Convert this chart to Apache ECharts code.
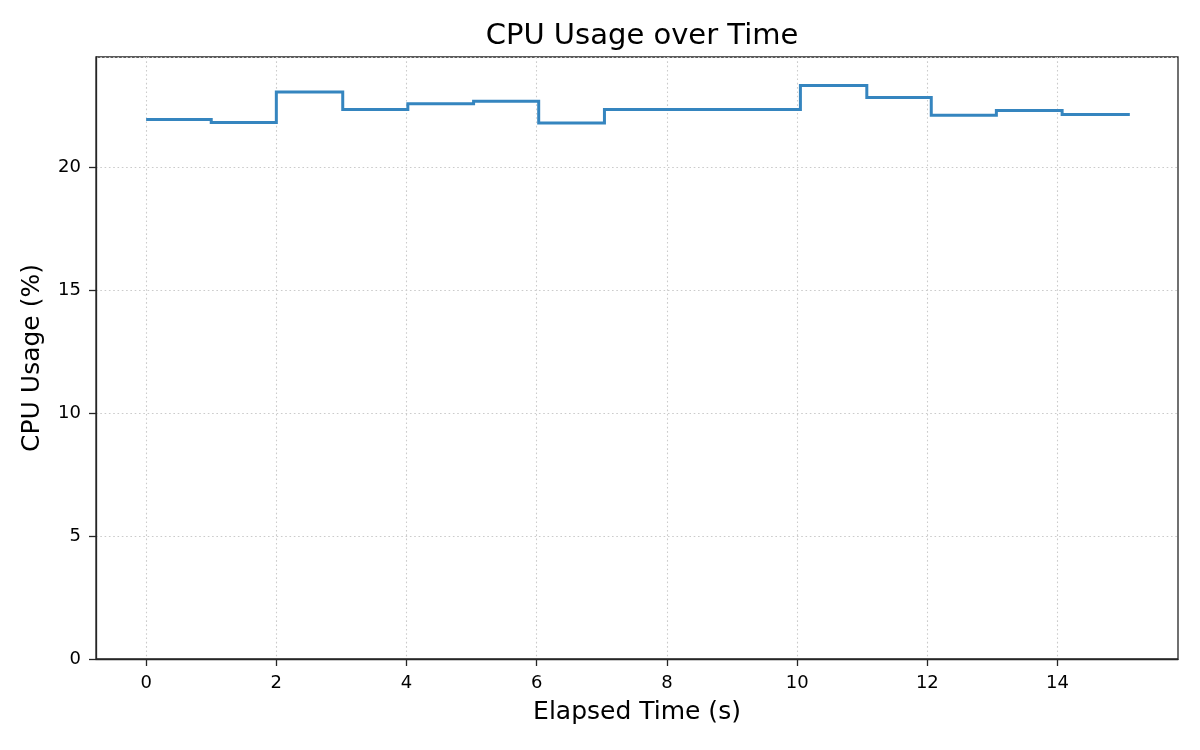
<!DOCTYPE html>
<html>
<head>
<meta charset="utf-8">
<title>CPU Usage over Time</title>
<script src="https://cdn.jsdelivr.net/npm/echarts@6/dist/echarts.min.js"></script>
<style>
  html, body { margin: 0; padding: 0; background: #fff; }
  #chart { width: 1200px; height: 750px; }
</style>
</head>
<body>
<div id="chart"></div>
<script>
// sample times (s) and CPU readings (%)
const elapsed = [0, 1.0, 2.0, 3.02, 4.02, 5.03, 6.03, 7.04, 8.05, 9.05, 10.05, 11.07, 12.06, 13.06, 14.07, 15.11]
const cpuUsage = [21.96, 21.83, 23.08, 22.36, 22.60, 22.70, 21.81, 22.36, 22.36, 22.36, 23.34, 22.85, 22.13, 22.32, 22.16, 22.16]
const xTicks = [0, 2, 4, 6, 8, 10, 12, 14]

const font = 'DejaVu Sans'
const axisColor = '#262626'
const gridLine = { show: true, lineStyle: { color: '#cbcbcb', type: [1.6, 2.7], width: 1.1 } }

const chart = echarts.init(document.getElementById('chart'), null, { renderer: 'canvas' })

chart.setOption({
  animation: false,
  backgroundColor: '#fff',
  title: {
    text: 'CPU Usage over Time',
    left: 637,
    top: 17,
    textAlign: 'center',
    textStyle: { fontFamily: font, fontSize: 29, fontWeight: 'normal', color: '#000' }
  },
  grid: {
    left: 96, right: 22, top: 57, bottom: 91,
    show: true, borderColor: axisColor, borderWidth: 1.3, backgroundColor: 'transparent'
  },
  xAxis: {
    type: 'value',
    min: -0.77,
    max: 15.85,
    name: 'Elapsed Time (s)',
    nameLocation: 'middle',
    nameGap: 41,
    nameTextStyle: { fontFamily: font, fontSize: 25, color: '#000' },
    axisLine: { show: true, onZero: false, lineStyle: { color: axisColor, width: 1.3 } },
    axisTick: { show: true, length: 7, customValues: xTicks, lineStyle: { color: axisColor, width: 1.3 } },
    axisLabel: { customValues: xTicks, fontFamily: font, fontSize: 18, color: '#000', margin: 15 },
    splitLine: gridLine
  },
  yAxis: {
    type: 'value',
    min: 0,
    max: 24.5,
    interval: 5,
    name: 'CPU Usage (%)',
    nameLocation: 'middle',
    nameGap: 51,
    nameTextStyle: { fontFamily: font, fontSize: 25, color: '#000' },
    axisLine: { show: true, onZero: false, lineStyle: { color: axisColor, width: 1.3 } },
    axisTick: { show: true, length: 7, lineStyle: { color: axisColor, width: 1.3 } },
    axisLabel: { fontFamily: font, fontSize: 18, color: '#000', margin: 15, showMaxLabel: false },
    splitLine: gridLine
  },
  series: [{
    type: 'line',
    step: 'end',
    data: elapsed.map((t, i) => [t, cpuUsage[i]]),
    showSymbol: false,
    lineStyle: { color: '#3585bf', width: 3, join: 'miter', cap: 'butt' },
    itemStyle: { color: '#3585bf' }
  }]
})
</script>
</body>
</html>
